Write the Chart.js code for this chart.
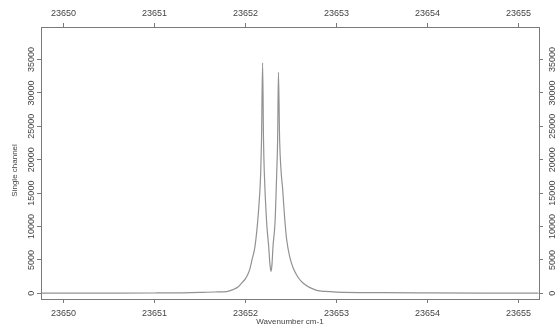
<!DOCTYPE html>
<html>
<head>
<meta charset="utf-8">
<script src="https://cdn.jsdelivr.net/npm/chart.js@4/dist/chart.umd.min.js"></script>
<style>
  html, body { margin: 0; padding: 0; background: #fff; }
  #wrap { width: 557px; height: 327px; }
</style>
</head>
<body>
<div id="wrap"><canvas id="spectrum"></canvas></div>
<script>
// Valores
const wavenumber = [
  23649.76, 23650.5, 23651.0, 23651.3, 23651.5, 23651.665, 23651.793, 23651.863,
  23651.921, 23651.962, 23652.000, 23652.031, 23652.049, 23652.071, 23652.104,
  23652.141, 23652.167, 23652.176, 23652.188, 23652.198, 23652.207, 23652.233,
  23652.255, 23652.269, 23652.280, 23652.291, 23652.302, 23652.324, 23652.343,
  23652.353, 23652.362, 23652.375, 23652.390, 23652.409, 23652.429, 23652.453,
  23652.489, 23652.525, 23652.577, 23652.635, 23652.709, 23652.782, 23652.874,
  23653.002, 23653.5, 23654.0, 23654.6, 23655.22
];
const singleChannel = [
  20, 30, 50, 80, 130, 200, 260, 550,
  990, 1600, 2200, 2990, 3700, 5000, 6980,
  11980, 17960, 22950, 34500, 22950, 17960, 10480,
  6980, 4300, 3300, 4300, 6980, 10520, 18000,
  22950, 33080, 22950, 18500, 15460, 11500, 7980,
  5300, 3740, 2400, 1500, 850, 450, 280,
  180, 90, 60, 40, 30
];
const xTicks = [23650, 23651, 23652, 23653, 23654, 23655];
const yTicks = [0, 5000, 10000, 15000, 20000, 25000, 30000, 35000];

const xMin = 23649.753, xMax = 23655.225;
const yMin = -850, yMax = 39870;

const fuente = '"Liberation Sans", Arial, sans-serif';
const gris = '#7a7a7a';
const texto = '#444';

// Etiquetas rotadas de los ejes Y y titulo izquierdo (estilo R)
const etiquetasY = {
  id: 'etiquetasY',
  afterDraw(chart) {
    const ctx = chart.ctx;
    const izq = chart.scales.y, der = chart.scales.y2;
    ctx.save();
    ctx.fillStyle = texto;
    ctx.textAlign = 'center';
    ctx.textBaseline = 'middle';
    ctx.font = '9px ' + fuente;
    [[izq, izq.right - 9.5], [der, der.left + 13.5]].forEach(([s, x]) => {
      s.ticks.forEach(t => {
        const py = s.getPixelForValue(t.value);
        ctx.save();
        ctx.translate(x, py);
        ctx.rotate(-Math.PI / 2);
        ctx.fillText(String(t.value), 0, 0);
        ctx.restore();
      });
    });
    // titulo del eje Y
    ctx.font = '8px ' + fuente;
    ctx.translate(15, izq.getPixelForValue(18400));
    ctx.rotate(-Math.PI / 2);
    ctx.fillText('Single channel', 0, 0);
    ctx.restore();
  }
};

function ejeX(position, size, pad) {
  return {
    type: 'linear',
    position: position,
    min: xMin, max: xMax,
    afterBuildTicks: s => { s.ticks = xTicks.map(v => ({ value: v })); },
    afterFit: s => { s.height = size; },
    ticks: {
      font: { size: 9, family: fuente },
      color: texto,
      padding: pad,
      maxRotation: 0,
      autoSkip: false,
      callback: v => String(v)
    },
    grid: { drawOnChartArea: false, drawTicks: true, tickLength: 4, color: gris },
    border: { display: true, color: gris, width: 1 }
  };
}

function ejeY(position, size) {
  return {
    type: 'linear',
    position: position,
    min: yMin, max: yMax,
    afterBuildTicks: s => { s.ticks = yTicks.map(v => ({ value: v })); },
    afterFit: s => { s.width = size; },
    ticks: { display: false },
    grid: { drawOnChartArea: false, drawTicks: true, tickLength: 4, color: gris },
    border: { display: true, color: gris, width: 1 }
  };
}

const puntos = wavenumber.map((x, i) => ({ x: x, y: singleChannel[i] }));

const escalas = {
  x: ejeX('bottom', 28, 5),
  x2: ejeX('top', 27, 4),
  y: ejeY('left', 41),
  y2: ejeY('right', 18)
};
escalas.x.title = {
  display: true,
  text: 'Wavenumber cm-1',
  font: { size: 8, family: fuente },
  color: texto,
  padding: { top: 0, bottom: 0 }
};

new Chart(document.getElementById('spectrum'), {
  type: 'line',
  data: {
    datasets: [{
      data: puntos,
      xAxisID: 'x',
      yAxisID: 'y',
      borderColor: '#929292',
      borderWidth: 1.2,
      pointRadius: 0,
      cubicInterpolationMode: 'monotone',
      fill: false
    }]
  },
  options: {
    responsive: true,
    maintainAspectRatio: false,
    animation: false,
    layout: { padding: 0 },
    plugins: { legend: { display: false }, tooltip: { enabled: false } },
    scales: escalas
  },
  plugins: [etiquetasY]
});
</script>
</body>
</html>
